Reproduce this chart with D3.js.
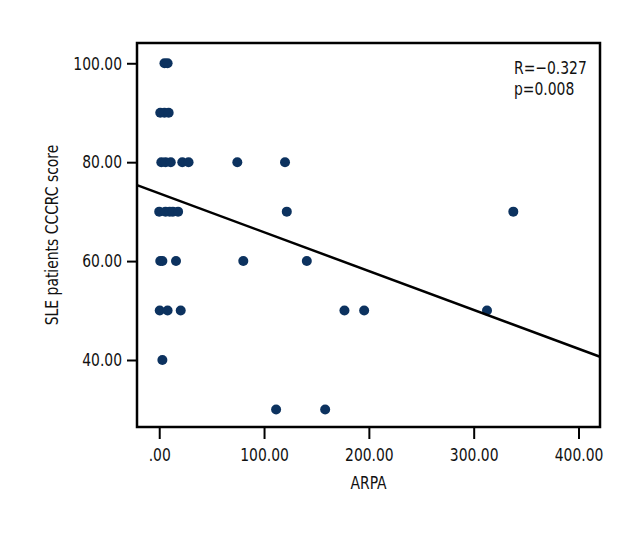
<!DOCTYPE html>
<html>
<head>
<meta charset="utf-8">
<script src="https://cdn.jsdelivr.net/npm/d3@7"></script>
<style>
  body { margin: 0; background: #fff; }
  svg text { font-family: "DejaVu Sans Condensed", "Liberation Sans Narrow", sans-serif; fill: #111; }
  /* the original uses a narrow face; squeeze the condensed one a bit */
  svg text.sq { transform-box: fill-box; transform: scaleX(0.86); }
  svg text.sq-l { transform-origin: left center; }
  svg text.sq-r { transform-origin: right center; }
  svg text.sq-c { transform-origin: center center; }
</style>
</head>
<body>
<svg id="chart" width="640" height="540"></svg>
<script>
// ARPA vs CCCRC score (overlapping dots only partly recoverable)
const arpa = [5, 8,
  1, 5, 9,
  2, 6, 11, 22, 28, 74.5, 120,
  0, 6, 10, 13, 18, 121.7, 337.8,
  1, 3, 16, 80.2, 140.8,
  0.5, 8, 20.5, 176.7, 195.5, 312.7,
  3,
  111.5, 158.3];
const score = [100, 100,
  90, 90, 90,
  80, 80, 80, 80, 80, 80, 80,
  70, 70, 70, 70, 70, 70, 70,
  60, 60, 60, 60, 60,
  50, 50, 50, 50, 50, 50,
  40,
  30, 30];
const xTicks = [0, 100, 200, 300, 400];
const yTicks = [40, 60, 80, 100];
// fitted line as printed
const fitIntercept = 73.7;
const fitSlope = -0.0786;
const statLines = ["R=\u22120.327", "p=0.008"];

const svg = d3.select("#chart");
const frame = {left: 137, right: 600, top: 43, bottom: 427};

const x = d3.scaleLinear().domain([-21.2, 420.5]).range([frame.left, frame.right]);
const y = d3.scaleLinear().domain([26.45, 104.1]).range([frame.bottom, frame.top]);
const fmt = d => d === 0 ? ".00" : d3.format(".2f")(d);

// axes
const gx = svg.append("g")
  .attr("transform", `translate(0,${frame.bottom})`)
  .call(d3.axisBottom(x).tickValues(xTicks).tickFormat(fmt).tickSize(12).tickPadding(9));
const gy = svg.append("g")
  .attr("transform", `translate(${frame.left},0)`)
  .call(d3.axisLeft(y).tickValues(yTicks).tickFormat(fmt).tickSize(10).tickPadding(5));
[gx, gy].forEach(g => {
  g.select(".domain").remove();
  g.selectAll(".tick line").attr("stroke", "#000").attr("stroke-width", 2);
  g.selectAll(".tick text").attr("font-size", 18).attr("fill", "#111");
});
gx.selectAll(".tick text").attr("class", "sq sq-c");
gy.selectAll(".tick text").attr("class", "sq sq-r");

// points
svg.append("g")
  .selectAll("circle")
  .data(arpa.map((a, i) => [a, score[i]]))
  .join("circle")
  .attr("cx", d => x(d[0]))
  .attr("cy", d => y(d[1]))
  .attr("r", 5)
  .attr("fill", "#0c325f");

// regression line across the frame
const [x0, x1] = x.domain();
svg.append("line")
  .attr("x1", x(x0)).attr("y1", y(fitIntercept + fitSlope * x0))
  .attr("x2", x(x1)).attr("y2", y(fitIntercept + fitSlope * x1))
  .attr("stroke", "#000")
  .attr("stroke-width", 2.5);

// frame
svg.append("rect")
  .attr("x", frame.left).attr("y", frame.top)
  .attr("width", frame.right - frame.left)
  .attr("height", frame.bottom - frame.top)
  .attr("fill", "none")
  .attr("stroke", "#000")
  .attr("stroke-width", 2.5);

// stats
svg.append("g")
  .selectAll("text")
  .data(statLines)
  .join("text")
  .attr("class", "sq sq-l")
  .attr("x", 514)
  .attr("y", (d, i) => 74 + i * 21)
  .attr("font-size", 18)
  .text(d => d);

// titles
svg.append("text")
  .attr("class", "sq sq-c")
  .attr("x", (frame.left + frame.right) / 2)
  .attr("y", 489)
  .attr("text-anchor", "middle")
  .attr("font-size", 18)
  .text("ARPA");
svg.append("g")
  .attr("transform", `translate(58,${(frame.top + frame.bottom) / 2}) rotate(-90)`)
  .append("text")
  .attr("class", "sq sq-c")
  .attr("text-anchor", "middle")
  .attr("font-size", 18)
  .text("SLE patients CCCRC score");
</script>
</body>
</html>
